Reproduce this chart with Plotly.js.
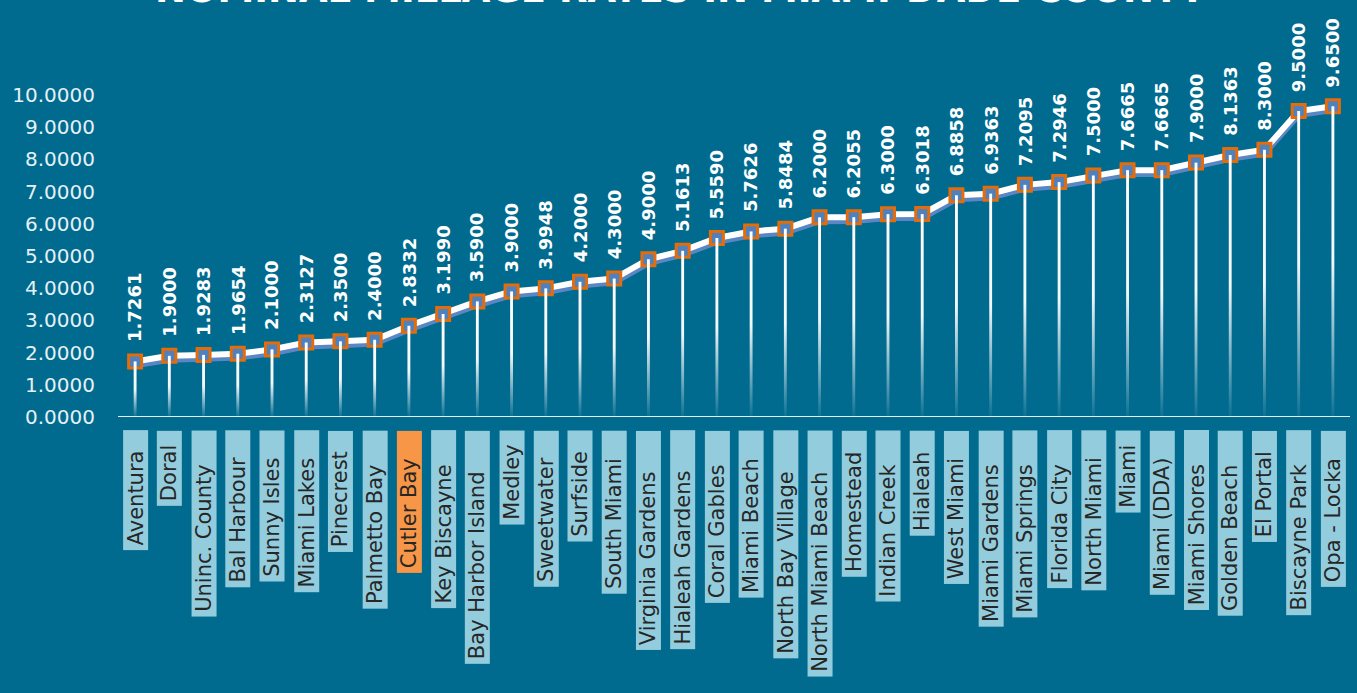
<!DOCTYPE html>
<html>
<head>
<meta charset="utf-8">
<script src="https://cdn.plot.ly/plotly-3.0.1.min.js"></script>
<style>
html,body{margin:0;padding:0;background:#006a8f;}
#chart{width:1357px;height:693px;}
</style>
</head>
<body>
<div id="chart"></div>
<script>
// ---- data ----
const chartTitle = "NOMINAL MILLAGE RATES IN MIAMI-DADE COUNTY";
const municipalities = [
  "Aventura","Doral","Uninc. County","Bal Harbour","Sunny Isles","Miami Lakes",
  "Pinecrest","Palmetto Bay","Cutler Bay","Key Biscayne","Bay Harbor Island","Medley",
  "Sweetwater","Surfside","South Miami","Virginia Gardens","Hialeah Gardens","Coral Gables",
  "Miami Beach","North Bay Village","North Miami Beach","Homestead","Indian Creek","Hialeah",
  "West Miami","Miami Gardens","Miami Springs","Florida City","North Miami","Miami",
  "Miami (DDA)","Miami Shores","Golden Beach","El Portal","Biscayne Park","Opa - Locka"
];
const millageRates = [
  1.7261,1.9000,1.9283,1.9654,2.1000,2.3127,
  2.3500,2.4000,2.8332,3.1990,3.5900,3.9000,
  3.9948,4.2000,4.3000,4.9000,5.1613,5.5590,
  5.7626,5.8484,6.2000,6.2055,6.3000,6.3018,
  6.8858,6.9363,7.2095,7.2946,7.5000,7.6665,
  7.6665,7.9000,8.1363,8.3000,9.5000,9.6500
];
const highlighted = ["Cutler Bay"];
const yTickValues = [0,1,2,3,4,5,6,7,8,9,10];

// ---- styles ----
const BG = "#006a8f";
const FONT = "DejaVu Sans, sans-serif";
const xs = municipalities.map((_, i) => i);

const traces = [];
// shadow line (on the slightly shifted hidden axis)
traces.push({
  x: xs, y: millageRates, yaxis: "y", type: "scatter", mode: "lines",
  line: {color: "#5b86c4", width: 6}, hoverinfo: "skip", showlegend: false
});
// main white line with markers
traces.push({
  x: xs, y: millageRates, yaxis: "y2", type: "scatter", mode: "lines+markers",
  line: {color: "#ffffff", width: 6},
  marker: {symbol: "square", size: 13, color: "#4f81bd", line: {color: "#e46c0a", width: 3}},
  hoverinfo: "x+y", showlegend: false
});
// drop lines with vertical gradient
const hw = 0.042;
municipalities.forEach((m, i) => {
  const v = millageRates[i];
  traces.push({
    x: [i - hw, i + hw, i + hw, i - hw, i - hw],
    y: [0, 0, v, v, 0],
    yaxis: "y2", type: "scatter", mode: "lines", fill: "toself",
    line: {width: 0, color: "rgba(0,0,0,0)"},
    fillgradient: {type: "vertical", colorscale: [[0, "rgba(255,255,255,0.05)"], [0.5, "rgba(255,255,255,0.95)"], [1, "#ffffff"]]},
    hoverinfo: "skip", showlegend: false
  });
});

const annotations = [];
// value labels
millageRates.forEach((v, i) => {
  annotations.push({
    x: i, y: v, xref: "x", yref: "y2", text: v.toFixed(4), showarrow: false,
    textangle: -90, xanchor: "center", yanchor: "bottom", yshift: 17,
    font: {family: FONT, size: 18, color: "#ffffff", weight: "bold"}
  });
});
// category labels in boxes
municipalities.forEach((m, i) => {
  const pad = "\u00A0".repeat(Math.round(m.length * 0.38));
  annotations.push({
    x: i, y: 0, xref: "x", yref: "y2", text: "\u2009" + m + pad, showarrow: false,
    textangle: -90, xanchor: "center", yanchor: "top", yshift: -13,
    bgcolor: highlighted.includes(m) ? "#f79646" : "#93cddd",
    borderpad: 0,
    font: {family: FONT, size: 21, color: "#262626"}
  });
});
// title (cut off at the top, as in the reference)
annotations.push({
  x: 0.457, y: 1, xref: "paper", yref: "paper", text: chartTitle, showarrow: false,
  xanchor: "center", yanchor: "bottom", yshift: 82,
  font: {family: FONT, size: 37, color: "#ffffff", weight: "bold"}
});

const layout = {
  width: 1357, height: 693,
  paper_bgcolor: BG, plot_bgcolor: BG,
  margin: {l: 118, r: 7, t: 95, b: 276},
  showlegend: false,
  xaxis: {range: [-0.5, municipalities.length - 0.5], showgrid: false, zeroline: false,
          showticklabels: false, ticks: "", fixedrange: true},
  yaxis: {range: [0.12, 10.12], visible: false, fixedrange: true},
  yaxis2: {overlaying: "y", side: "left", range: [0, 10], tickvals: yTickValues,
           tickformat: ".4f", showgrid: false, zeroline: false, showline: false,
           ticks: "", ticklabelstandoff: 22,
           tickfont: {family: FONT, size: 20, color: "#e6f1f5"}},
  shapes: [{type: "line", xref: "paper", x0: 0, x1: 1, yref: "y2", y0: 0, y1: 0,
            line: {color: "#e3eef3", width: 2}, layer: "above"}],
  annotations: annotations
};

Plotly.newPlot("chart", traces, layout, {displayModeBar: false, staticPlot: true});
</script>
</body>
</html>
